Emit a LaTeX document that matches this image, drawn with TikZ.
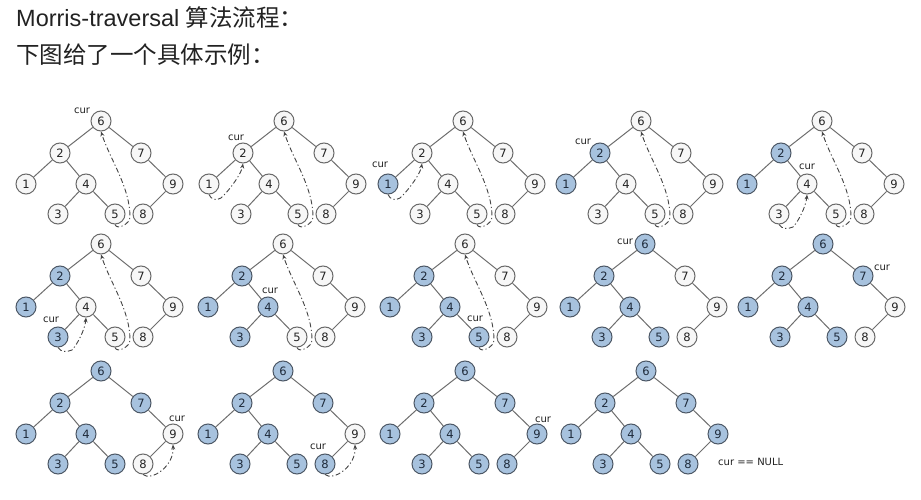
\documentclass[tikz,border=0pt]{standalone}
\usepackage{fontspec}
\setmainfont{Liberation Sans}
\newfontfamily\cjk{Noto Sans CJK SC}
\newfontfamily\dvs{DejaVu Sans}
\usetikzlibrary{arrows.meta}
\definecolor{bfill}{HTML}{A7C2DE}
\definecolor{bline}{HTML}{4D5866}
\definecolor{wline}{HTML}{6A6A6A}
\definecolor{wfill}{HTML}{F7F7F7}
\definecolor{eline}{HTML}{6E6E6E}
\definecolor{tline}{HTML}{444444}
\definecolor{ink}{HTML}{222222}
\definecolor{numblue}{HTML}{1E2A3A}
\tikzset{
 wnode/.style={circle, draw=wline, fill=wfill, line width=1pt, minimum size=20pt, inner sep=0pt, font=\dvs\fontsize{11.5}{11.5}\selectfont, text=ink},
 bnode/.style={wnode, draw=bline, fill=bfill, text=numblue},
 edge/.style={draw=eline, line width=1pt},
 thread/.style={draw=tline, line width=0.9pt, dash pattern=on 5pt off 2.5pt on 1.2pt off 2.5pt, -{Stealth[length=5pt,width=4pt]}},
 curlab/.style={font=\dvs\fontsize{10}{10}\selectfont, text=ink, inner sep=0pt},
 head/.style={anchor=base west, inner sep=0pt, font=\fontsize{23.5}{23.5}\selectfont, text=ink},
}
\newcommand\mtree[4]{%
 \begin{scope}[shift={(#2,#3)}]
 \foreach \k/\dx/\dy in {6/0/0,2/-41/32,7/40/32,1/-75/63,4/-15/63,9/72/63,3/-43/93,5/14/93,8/42/93}{%
  \ifnum\k>#4\relax\def\st{wnode}\else\def\st{bnode}\fi
  \node[\st] (#1\k) at (\dx,\dy) {\k};
 }
 \draw[edge] (#16)--(#12) (#16)--(#17) (#12)--(#11) (#12)--(#14) (#14)--(#13) (#14)--(#15) (#17)--(#19) (#19)--(#18);
 \end{scope}}
\newcommand\thrA[1]{\draw[thread] (#15.south) .. controls +(2,6) and +(0,7) .. ([shift={(15,3)}]#15.center) .. controls +(0,-30) and +(9,28) .. (#16.south);}
\newcommand\thrB[1]{\draw[thread] (#11.south) .. controls +(2,5) and +(-5,3) .. ([shift={(12,14)}]#11.center) .. controls +(5,-4) and +(-2,12) .. (#12.south);}
\newcommand\thrC[1]{\draw[thread] (#13.south) .. controls +(3,5) and +(-5,2) .. ([shift={(14,13)}]#13.center) .. controls +(5,-5) and +(-1,12) .. (#14.south);}
\newcommand\thrD[1]{\draw[thread] (#18.south) .. controls +(8,7) and +(1,22) .. (#19.south);}
\newcommand\curat[3]{\node[curlab] (cur#1) at ([shift={(#2,#3)}]#1) {cur};}
\begin{document}
\begin{tikzpicture}[x=1pt,y=-1pt]
\useasboundingbox (0,0) rectangle (921,500);
\fill[white] (0,0) rectangle (921,500);
\node[head] (h1) at (16,27) {Morris-traversal {\cjk 算法流程：}};
\node[head] (h2) at (16,64) {{\cjk 下图给了一个具体示例：}};
% row 1
\mtree{a}{101}{121}{0} \thrA{a} \curat{a6}{-19}{-10}
\mtree{b}{284}{121}{0} \thrA{b} \thrB{b} \curat{b2}{-7}{-15}
\mtree{c}{463}{121}{1} \thrA{c} \thrB{c} \curat{c1}{-8}{-19}
\mtree{d}{641}{121}{2} \thrA{d} \curat{d2}{-17}{-11}
\mtree{e}{822}{121}{2} \thrA{e} \thrC{e} \curat{e4}{0}{-17}
% row 2
\mtree{f}{101}{244}{3} \thrA{f} \thrC{f} \curat{f3}{-7}{-17}
\mtree{g}{283}{244}{4} \thrA{g} \curat{g4}{2}{-16}
\mtree{h}{465}{244}{5} \thrA{h} \curat{h5}{-4}{-18}
\mtree{i}{645}{244}{6} \curat{i6}{-20}{-2}
\mtree{j}{823}{244}{7} \curat{j7}{19}{-8}
% row 3
\mtree{k}{101}{371}{7} \thrD{k} \curat{k9}{4}{-15}
\mtree{l}{283}{371}{8} \thrD{l} \curat{l8}{-7}{-17}
\mtree{m}{465}{371}{9} \curat{m9}{6}{-14}
\mtree{n}{646}{371}{9}
\node[curlab, anchor=west] (null) at ([shift={(30,-2)}]n8) {cur == NULL};
\end{tikzpicture}
\end{document}
